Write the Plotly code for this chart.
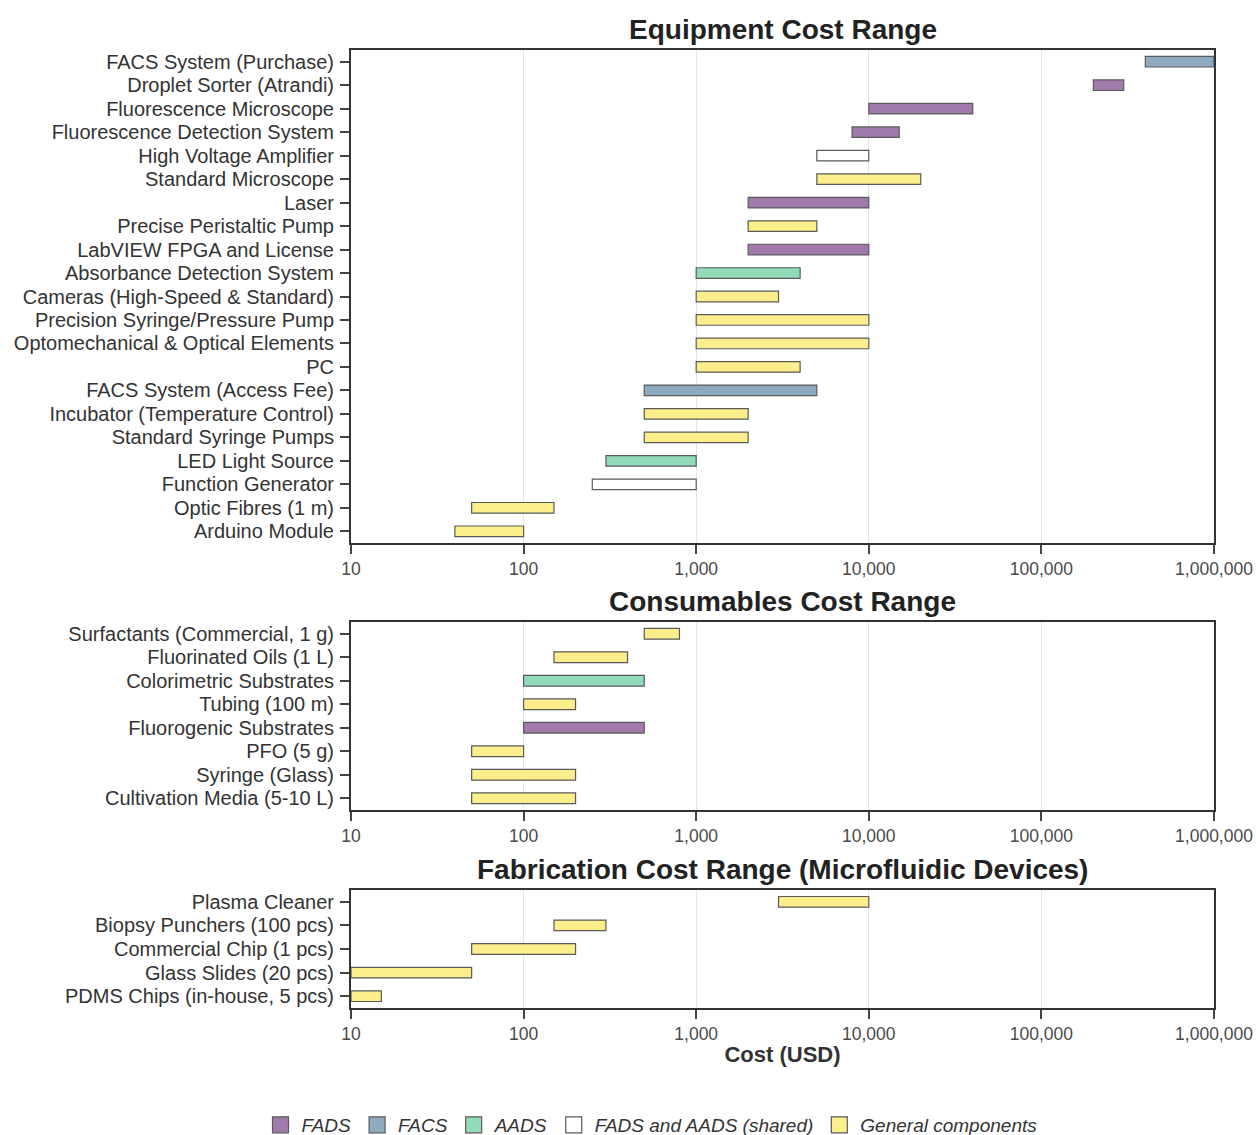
import plotly.graph_objects as go

# ---------------- data ----------------
equip_items = ["FACS System (Purchase)", "Droplet Sorter (Atrandi)", "Fluorescence Microscope",
               "Fluorescence Detection System", "High Voltage Amplifier", "Standard Microscope",
               "Laser", "Precise Peristaltic Pump", "LabVIEW FPGA and License",
               "Absorbance Detection System", "Cameras (High-Speed & Standard)",
               "Precision Syringe/Pressure Pump", "Optomechanical & Optical Elements", "PC",
               "FACS System (Access Fee)", "Incubator (Temperature Control)", "Standard Syringe Pumps",
               "LED Light Source", "Function Generator", "Optic Fibres (1 m)", "Arduino Module"]
equip_low = [400000, 200000, 10000, 8000, 5000, 5000, 2000, 2000, 2000, 1000, 1000,
             1000, 1000, 1000, 500, 500, 500, 300, 250, 50, 40]
equip_high = [1000000, 300000, 40000, 15000, 10000, 20000, 10000, 5000, 10000, 4000, 3000,
              10000, 10000, 4000, 5000, 2000, 2000, 1000, 1000, 150, 100]
equip_group = ["FACS", "FADS", "FADS", "FADS", "Shared", "General", "FADS", "General", "FADS",
               "AADS", "General", "General", "General", "General", "FACS", "General", "General",
               "AADS", "Shared", "General", "General"]

cons_items = ["Surfactants (Commercial, 1 g)", "Fluorinated Oils (1 L)", "Colorimetric Substrates",
              "Tubing (100 m)", "Fluorogenic Substrates", "PFO (5 g)", "Syringe (Glass)",
              "Cultivation Media (5-10 L)"]
cons_low = [500, 150, 100, 100, 100, 50, 50, 50]
cons_high = [800, 400, 500, 200, 500, 100, 200, 200]
cons_group = ["General", "General", "AADS", "General", "FADS", "General", "General", "General"]

fab_items = ["Plasma Cleaner", "Biopsy Punchers (100 pcs)", "Commercial Chip (1 pcs)",
             "Glass Slides (20 pcs)", "PDMS Chips (in-house, 5 pcs)"]
fab_low = [3000, 150, 50, 10, 10]
fab_high = [10000, 300, 200, 50, 15]
fab_group = ["General", "General", "General", "General", "General"]

group_keys = ["FADS", "FACS", "AADS", "Shared", "General"]
group_names = ["FADS", "FACS", "AADS", "FADS and AADS (shared)", "General components"]
group_colors = ["#a07aaa", "#8eaabe", "#92dbb8", "#ffffff", "#fbee8b"]

x_tickvals = [10, 100, 1000, 10000, 100000, 1000000]
x_ticktext = ["10", "100", "1,000", "10,000", "100,000", "1,000,000"]

titles = ["Equipment Cost Range", "Consumables Cost Range", "Fabrication Cost Range (Microfluidic Devices)"]

# ---------------- figure ----------------
W = 1256
H = 1135
panels = [
    (equip_items, equip_low, equip_high, equip_group, (50, 543)),
    (cons_items, cons_low, cons_high, cons_group, (622, 810)),
    (fab_items, fab_low, fab_high, fab_group, (890, 1008)),
]

fig = go.Figure()
layout_axes = {}
annotations = []
for pi, (items, lows, highs, groups, (ytop, ybot)) in enumerate(panels):
    suffix = "" if pi == 0 else str(pi + 1)
    xa = "x" + suffix
    ya = "y" + suffix
    for gk, gname, gcol in zip(group_keys, group_names, group_colors):
        idx = [i for i, g in enumerate(groups) if g == gk]
        if not idx:
            continue
        fig.add_trace(go.Bar(
            y=[items[i] for i in idx],
            x=[highs[i] - lows[i] for i in idx],
            base=[lows[i] for i in idx],
            orientation="h",
            width=0.45,
            marker=dict(color=gcol, line=dict(color="#5a5a5a", width=1.2)),
            name=gname,
            legendgroup=gk,
            showlegend=False,
            xaxis=xa, yaxis=ya,
            hovertemplate="%{y}: %{base:,} - %{customdata:,} USD<extra></extra>",
            customdata=[highs[i] for i in idx],
        ))
    dom = [1 - ybot / H, 1 - ytop / H]
    layout_axes["xaxis" + suffix] = dict(
        type="log", range=[1, 6], tickvals=x_tickvals, ticktext=x_ticktext,
        showgrid=True, gridcolor="#e6e6e6", gridwidth=1,
        showline=True, linecolor="#333333", linewidth=2, mirror=True,
        ticks="outside", ticklen=9, tickwidth=1.5, tickcolor="#444444",
        tickfont=dict(size=17.5, color="#4a4a4a"),
        anchor=ya, domain=[0, 1], zeroline=False,
    )
    layout_axes["yaxis" + suffix] = dict(
        type="category", categoryorder="array", categoryarray=list(reversed(items)),
        tickmode="array", tickvals=items, ticktext=items,
        range=[-0.5, len(items) - 0.5],
        showline=True, linecolor="#333333", linewidth=2, mirror=True,
        ticks="outside", ticklen=9, tickwidth=1.5, tickcolor="#444444",
        tickfont=dict(size=20, color="#333333"), showgrid=False,
        anchor=xa, domain=dom, ticklabelstandoff=2,
    )
    annotations.append(dict(
        text="<b>" + titles[pi] + "</b>", x=0.5, xref="paper", y=1 - (ytop - 21) / H,
        yref="paper", xanchor="center", yanchor="middle", showarrow=False,
        font=dict(size=28, color="#222222"),
    ))

# legend-only entries (bigger square swatches)
for gk, gname, gcol in zip(group_keys, group_names, group_colors):
    fig.add_trace(go.Scatter(
        x=[None], y=[None], mode="markers", name=gname, legendgroup=gk,
        marker=dict(symbol="square", size=16, color=gcol, line=dict(color="#5a5a5a", width=1.2)),
        xaxis="x", yaxis="y", hoverinfo="skip",
    ))

layout_axes["xaxis3"]["title"] = dict(text="<b>Cost (USD)</b>", font=dict(size=22, color="#333333"), standoff=4)

fig.update_layout(
    width=W, height=H,
    margin=dict(l=351, r=42, t=0, b=0, autoexpand=False),
    paper_bgcolor="white", plot_bgcolor="white",
    font=dict(family="Liberation Sans, Arial, sans-serif", color="#333333"),
    barmode="overlay",
    annotations=annotations,
    legend=dict(orientation="h", xref="container", yref="container",
                x=651 / W, xanchor="center", y=(1135 - 1125) / H, yanchor="middle",
                font=dict(size=19, style="italic", color="#333333"),
                itemsizing="trace", itemwidth=32, traceorder="normal"),
    **layout_axes,
)

fig.write_html("out.html", config={"displayModeBar": False},
               post_script="document.body.style.margin='0';document.body.style.overflow='hidden';")
